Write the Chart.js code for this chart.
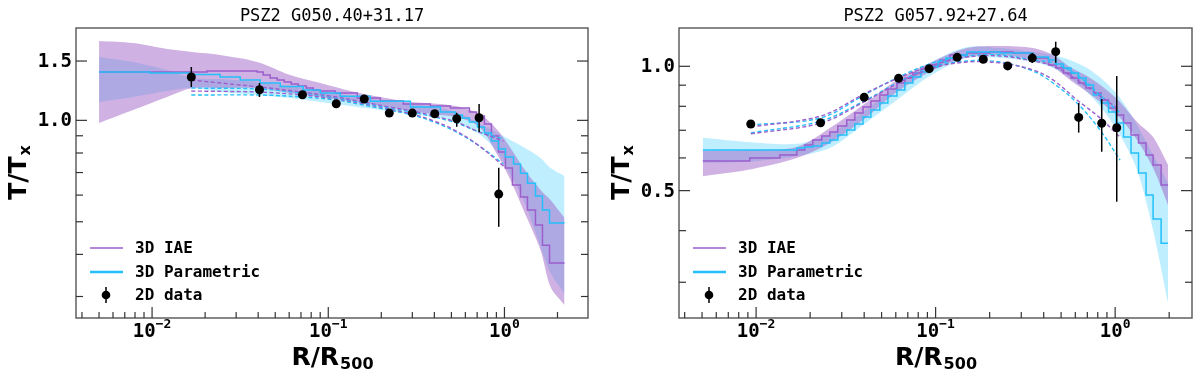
<!DOCTYPE html>
<html>
<head>
<meta charset="utf-8">
<title>T/Tx profiles</title>
<script src="https://cdn.jsdelivr.net/npm/chart.js@4.4.1/dist/chart.umd.min.js"></script>
<style>
	html, body { margin: 0; padding: 0; background: #fff; }
	#wrap { display: flex; width: 1200px; height: 378px; }
	.panel { position: relative; width: 600px; height: 378px; }
</style>
</head>
<body>
<div id="wrap">
	<div class="panel"><canvas id="chartA"></canvas></div>
	<div class="panel"><canvas id="chartB"></canvas></div>
</div>
<script>
// ---- left panel: PSZ2 G050.40+31.17 ----
const titleA = 'PSZ2 G050.40+31.17';
const radiiA = [0.0167, 0.0407, 0.0714, 0.111, 0.160, 0.222, 0.300, 0.402, 0.536, 0.718, 0.928];
const tempA = [1.345, 1.233, 1.191, 1.120, 1.157, 1.051, 1.051, 1.046, 1.011, 1.018, 0.604];
const errLoA = [1.256, 1.173, 1.178, 1.107, 1.144, 1.040, 1.040, 1.033, 0.957, 0.923, 0.483];
const errHiA = [1.440, 1.290, 1.204, 1.133, 1.170, 1.062, 1.062, 1.059, 1.053, 1.118, 0.723];

const bandRA = [0.0050, 0.0078, 0.01217, 0.01688, 0.02434, 0.0395, 0.0608, 0.0901, 0.1334, 0.1975, 0.2924, 0.4329, 0.5623, 0.7305, 0.9125, 1.082, 1.282, 1.602, 1.826, 2.192];
const iaeUpA = [1.720, 1.696, 1.628, 1.595, 1.563, 1.490, 1.363, 1.290, 1.222, 1.173, 1.133, 1.118, 1.095, 1.040, 0.936, 0.828, 0.722, 0.621, 0.580, 0.513];
const iaeLoA = [0.982, 1.073, 1.173, 1.247, 1.247, 1.247, 1.205, 1.173, 1.141, 1.103, 1.066, 1.037, 1.016, 0.949, 0.789, 0.665, 0.542, 0.412, 0.320, 0.283];
const parUpA = [1.542, 1.490, 1.411, 1.335, 1.326, 1.299, 1.264, 1.222, 1.181, 1.149, 1.118, 1.088, 1.044, 0.975, 0.917, 0.874, 0.833, 0.773, 0.722, 0.684];
const parLoA = [1.133, 1.173, 1.222, 1.247, 1.213, 1.189, 1.165, 1.133, 1.103, 1.073, 1.044, 1.016, 0.975, 0.905, 0.805, 0.688, 0.580, 0.421, 0.352, 0.305];

const iaeStepRA = [0.0050, 0.0205, 0.0395, 0.0427, 0.0468, 0.0513, 0.0562, 0.0616, 0.0675, 0.0750, 0.0822, 0.0901, 0.1096, 0.1462, 0.1975, 0.2667, 0.3797, 0.4934, 0.6326, 0.6934, 0.7695, 0.8436, 0.9254, 1.013, 1.110, 1.233, 1.351, 1.500, 1.644, 1.802, 2.192];
const iaeStepTA = [1.391, 1.401, 1.391, 1.363, 1.335, 1.317, 1.299, 1.282, 1.264, 1.247, 1.230, 1.222, 1.205, 1.165, 1.141, 1.118, 1.103, 1.088, 1.058, 1.030, 0.975, 0.898, 0.805, 0.722, 0.643, 0.592, 0.542, 0.489, 0.426, 0.377, 0.377];
const parStepRA = [0.0050, 0.00974, 0.01666, 0.02434, 0.03164, 0.0411, 0.0534, 0.0721, 0.0901, 0.117, 0.1732, 0.2924, 0.4329, 0.5268, 0.5772, 0.6326, 0.7025, 0.7695, 0.8436, 0.9254, 1.013, 1.125, 1.233, 1.351, 1.500, 1.644, 1.802, 2.192];
const parStepTA = [1.391, 1.382, 1.368, 1.345, 1.317, 1.290, 1.260, 1.230, 1.205, 1.180, 1.140, 1.095, 1.058, 1.037, 1.016, 0.988, 0.955, 0.917, 0.868, 0.822, 0.778, 0.742, 0.697, 0.651, 0.596, 0.542, 0.496, 0.496];

const projRA = [0.0167, 0.0407, 0.0714, 0.111, 0.160, 0.222, 0.300, 0.400, 0.534, 0.721, 0.987];
const projIaeA1 = [1.317, 1.256, 1.213, 1.173, 1.133, 1.095, 1.066, 1.030, 0.988, 0.923, 0.868];
const projParA1 = [1.247, 1.239, 1.205, 1.165, 1.126, 1.088, 1.058, 1.023, 0.982, 0.923, 0.880];
const projIaeA2 = [1.222, 1.213, 1.189, 1.157, 1.118, 1.080, 1.044, 0.995, 0.929, 0.839, 0.732];
const projParA2 = [1.189, 1.189, 1.173, 1.149, 1.110, 1.073, 1.037, 0.988, 0.923, 0.839, 0.742];

const yMajorA = [1.0, 1.5];
const yLabelsA = ['1.0', '1.5'];
const yMinorA = [0.3, 0.4, 0.5, 0.6, 0.7, 0.8, 0.9];

// ---- right panel: PSZ2 G057.92+27.64 ----
const titleB = 'PSZ2 G057.92+27.64';
const radiiB = [0.00934, 0.02286, 0.0400, 0.0622, 0.0921, 0.1319, 0.1842, 0.2520, 0.3455, 0.4666, 0.6266, 0.8418, 1.0207];
const tempB = [0.725, 0.730, 0.841, 0.935, 0.987, 1.051, 1.040, 1.002, 1.047, 1.085, 0.752, 0.728, 0.710];
const errLoB = [0.716, 0.721, 0.832, 0.926, 0.978, 1.042, 1.031, 0.993, 1.019, 1.020, 0.691, 0.621, 0.470];
const errHiB = [0.734, 0.739, 0.850, 0.944, 0.996, 1.060, 1.049, 1.011, 1.077, 1.147, 0.815, 0.833, 0.947];

const bandRB = [0.00505, 0.00888, 0.01686, 0.02575, 0.0394, 0.0609, 0.0929, 0.1494, 0.2283, 0.3486, 0.4507, 0.5604, 0.6973, 0.8563, 1.065, 1.325, 1.627, 1.972];
const iaeUpB = [0.624, 0.627, 0.638, 0.709, 0.806, 0.927, 1.019, 1.107, 1.120, 1.107, 1.065, 0.996, 0.947, 0.891, 0.820, 0.733, 0.674, 0.577];
const iaeLoB = [0.542, 0.561, 0.600, 0.652, 0.741, 0.867, 0.969, 1.053, 1.065, 1.036, 0.996, 0.927, 0.867, 0.810, 0.750, 0.663, 0.567, 0.461];
const parUpB = [0.671, 0.656, 0.649, 0.686, 0.775, 0.901, 1.019, 1.114, 1.107, 1.083, 1.065, 1.036, 0.991, 0.927, 0.838, 0.721, 0.610, 0.522];
const parLoB = [0.583, 0.587, 0.606, 0.634, 0.721, 0.829, 0.947, 1.047, 1.047, 1.024, 0.991, 0.937, 0.867, 0.784, 0.682, 0.561, 0.401, 0.267];

const iaeStepRB = [0.00505, 0.00922, 0.01356, 0.01686, 0.01868, 0.0207, 0.02324, 0.02575, 0.02853, 0.0320, 0.03549, 0.0394, 0.0436, 0.0489, 0.0542, 0.0609, 0.0674, 0.0747, 0.0828, 0.0929, 0.1057, 0.1202, 0.1494, 0.2008, 0.2698, 0.3486, 0.4254, 0.4685, 0.5159, 0.5678, 0.6252, 0.6884, 0.7577, 0.834, 0.9188, 1.0116, 1.114, 1.226, 1.350, 1.487, 1.627, 1.803, 1.972];
const iaeStepTB = [0.590, 0.600, 0.610, 0.627, 0.645, 0.663, 0.678, 0.693, 0.717, 0.741, 0.771, 0.797, 0.824, 0.852, 0.881, 0.911, 0.937, 0.963, 0.985, 1.007, 1.036, 1.065, 1.077, 1.083, 1.077, 1.047, 1.007, 0.991, 0.963, 0.937, 0.911, 0.886, 0.862, 0.829, 0.793, 0.762, 0.729, 0.682, 0.652, 0.610, 0.577, 0.516, 0.516];
const parStepRB = [0.00505, 0.01686, 0.01868, 0.0207, 0.02324, 0.02575, 0.02853, 0.0320, 0.03549, 0.0394, 0.0436, 0.0489, 0.0542, 0.0609, 0.0674, 0.0747, 0.0828, 0.0929, 0.1030, 0.1141, 0.1281, 0.1494, 0.2283, 0.3486, 0.4254, 0.4685, 0.5159, 0.5678, 0.6252, 0.6884, 0.7577, 0.834, 0.9188, 1.0116, 1.114, 1.226, 1.350, 1.487, 1.627, 1.803, 1.972];
const parStepTB = [0.627, 0.634, 0.638, 0.641, 0.652, 0.663, 0.682, 0.701, 0.725, 0.754, 0.784, 0.815, 0.847, 0.876, 0.911, 0.942, 0.969, 0.996, 1.024, 1.047, 1.065, 1.083, 1.077, 1.053, 1.036, 1.013, 0.991, 0.963, 0.937, 0.901, 0.852, 0.815, 0.775, 0.729, 0.674, 0.617, 0.552, 0.488, 0.427, 0.373, 0.373];

const projRB = [0.00934, 0.02294, 0.0400, 0.0622, 0.0966, 0.1494, 0.2283, 0.3486, 0.4507, 0.6132, 0.8236, 1.065];
const projIaeB1 = [0.713, 0.758, 0.857, 0.937, 1.007, 1.053, 1.059, 1.030, 1.002, 0.927, 0.847, 0.784];
const projParB1 = [0.721, 0.750, 0.852, 0.942, 1.019, 1.059, 1.065, 1.036, 1.019, 0.953, 0.852, 0.771];
const projIaeB2 = [0.686, 0.729, 0.820, 0.911, 0.991, 1.024, 1.019, 0.980, 0.927, 0.829, 0.750, 0.674];
const projParB2 = [0.690, 0.737, 0.824, 0.916, 0.996, 1.030, 1.024, 0.974, 0.911, 0.815, 0.701, 0.593];

const yMajorB = [0.5, 1.0];
const yLabelsB = ['0.5', '1.0'];
const yMinorB = [0.3, 0.4, 0.6, 0.7, 0.8, 0.9];

// shared axis ticks
const xMajor = [0.01, 0.1, 1];
const xExps = ['\u22122', '\u22121', '0'];
const legendLabels = ['3D IAE', '3D Parametric', '2D data'];

const PURPLE = 'rgb(155, 95, 205)';
const CYAN = 'rgb(35, 192, 250)';
const PURPLE_FILL = 'rgba(160, 100, 200, 0.5)';
const CYAN_FILL = 'rgba(0, 191, 255, 0.25)';
const MONO = '"DejaVu Sans Mono", monospace';
const SANS = '"DejaVu Sans", sans-serif';

const panels = {
	chartA: {
		title: titleA, r: radiiA, t: tempA, errLo: errLoA, errHi: errHiA,
		bandR: bandRA, iaeUp: iaeUpA, iaeLo: iaeLoA, parUp: parUpA, parLo: parLoA,
		iaeStepR: iaeStepRA, iaeStepT: iaeStepTA, parStepR: parStepRA, parStepT: parStepTA,
		projR: projRA, proj: [[projIaeA1, PURPLE], [projParA1, CYAN], [projIaeA2, PURPLE], [projParA2, CYAN]],
		yMajor: yMajorA, yLabels: yLabelsA, yMinor: yMinorA,
		xMin: 0.0037, xMax: 2.98, yMin: 0.259, yMax: 1.88,
		padding: { left: 76, right: 12, top: 28, bottom: 60 }
	},
	chartB: {
		title: titleB, r: radiiB, t: tempB, errLo: errLoB, errHi: errHiB,
		bandR: bandRB, iaeUp: iaeUpB, iaeLo: iaeLoB, parUp: parUpB, parLo: parLoB,
		iaeStepR: iaeStepRB, iaeStepT: iaeStepTB, parStepR: parStepRB, parStepT: parStepTB,
		projR: projRB, proj: [[projIaeB1, PURPLE], [projParB1, CYAN], [projIaeB2, PURPLE], [projParB2, CYAN]],
		yMajor: yMajorB, yLabels: yLabelsB, yMinor: yMinorB,
		xMin: 0.00372, xMax: 2.68, yMin: 0.2458, yMax: 1.238,
		padding: { left: 79, right: 8, top: 28, bottom: 60 }
	}
};

function pairs(xs, ys)
{
	return xs.map((x, i) => ({ x: x, y: ys[i] }));
}

// error bars under the markers, tick marks / labels / legend on top
const framePlugin = {
	id: 'frame',

	beforeDatasetDraw: function(chart, args)
	{
		if (args.index !== 0)
		{
			return;
		}
		const p = panels[chart.canvas.id];
		const ctx = chart.ctx, y = chart.scales.y;
		ctx.save();
		ctx.strokeStyle = '#000';
		ctx.lineWidth = 1.5;
		args.meta.data.forEach((pt, i) => {
			ctx.beginPath();
			ctx.moveTo(pt.x, y.getPixelForValue(p.errLo[i]));
			ctx.lineTo(pt.x, y.getPixelForValue(p.errHi[i]));
			ctx.stroke();
		});
		ctx.restore();
	},

	afterDraw: function(chart)
	{
		const p = panels[chart.canvas.id];
		const ctx = chart.ctx, a = chart.chartArea;
		const x = chart.scales.x, y = chart.scales.y;

		const line = (x1, y1, x2, y2) => {
			ctx.beginPath();
			ctx.moveTo(x1, y1);
			ctx.lineTo(x2, y2);
			ctx.stroke();
		};

		ctx.save();
		ctx.strokeStyle = '#555';
		ctx.lineWidth = 1.4;
		ctx.strokeRect(a.left, a.top, a.right - a.left, a.bottom - a.top);

		// y ticks, both sides, pointing in
		ctx.strokeStyle = '#333';
		ctx.lineWidth = 1.2;
		p.yMinor.forEach((v) => {
			const py = y.getPixelForValue(v);
			line(a.left, py, a.left + 7, py);
			line(a.right - 7, py, a.right, py);
		});
		ctx.fillStyle = '#000';
		ctx.font = 'bold 19px ' + MONO;
		ctx.textAlign = 'right';
		ctx.textBaseline = 'middle';
		p.yMajor.forEach((v, i) => {
			const py = y.getPixelForValue(v);
			line(a.left, py, a.left + 11, py);
			line(a.right - 11, py, a.right, py);
			ctx.fillText(p.yLabels[i], a.left - 4, py + 1);
		});

		// x ticks
		for (let d = 0.001; d < 10; d *= 10)
		{
			for (let k = 2; k <= 9; k++)
			{
				const v = d * k;
				if (v < p.xMin || v > p.xMax)
				{
					continue;
				}
				const px = x.getPixelForValue(v);
				line(px, a.bottom, px, a.bottom - 6);
			}
		}
		ctx.textAlign = 'left';
		ctx.textBaseline = 'alphabetic';
		xMajor.forEach((v, i) => {
			const px = x.getPixelForValue(v);
			line(px, a.bottom, px, a.bottom - 11);
			ctx.font = 'bold 19px ' + MONO;
			const w1 = ctx.measureText('10').width;
			ctx.font = 'bold 13px ' + MONO;
			const w2 = ctx.measureText(xExps[i]).width;
			const x0 = px - (w1 + w2) / 2;
			ctx.font = 'bold 19px ' + MONO;
			ctx.fillText('10', x0, a.bottom + 19);
			ctx.font = 'bold 13px ' + MONO;
			ctx.fillText(xExps[i], x0 + w1, a.bottom + 10);
		});

		// axis titles
		const cx = (a.left + a.right) / 2;
		ctx.font = 'bold 25px ' + SANS;
		const wR = ctx.measureText('R/R').width;
		ctx.font = 'bold 16px ' + SANS;
		const wS = ctx.measureText('500').width;
		ctx.font = 'bold 25px ' + SANS;
		ctx.fillText('R/R', cx - (wR + wS) / 2, 365);
		ctx.font = 'bold 16px ' + SANS;
		ctx.fillText('500', cx - (wR + wS) / 2 + wR + 1, 369);

		ctx.save();
		ctx.translate(a.left - 50, (a.top + a.bottom) / 2);
		ctx.rotate(-Math.PI / 2);
		ctx.font = 'bold 25px ' + SANS;
		const wT = ctx.measureText('T/T').width;
		ctx.font = 'bold 16px ' + SANS;
		const wx = ctx.measureText('x').width;
		ctx.font = 'bold 25px ' + SANS;
		ctx.fillText('T/T', -(wT + wx) / 2, 0);
		ctx.font = 'bold 16px ' + SANS;
		ctx.fillText('x', -(wT + wx) / 2 + wT + 1, 4);
		ctx.restore();

		// title
		ctx.font = '17px ' + MONO;
		ctx.textAlign = 'center';
		ctx.fillText(p.title, cx, 21);

		// legend
		const lx = a.left + 14, rows = [a.top + 220, a.top + 244, a.top + 267];
		ctx.lineWidth = 1.6;
		ctx.strokeStyle = PURPLE;
		line(lx, rows[0], lx + 33, rows[0]);
		ctx.lineWidth = 2.6;
		ctx.strokeStyle = CYAN;
		line(lx, rows[1], lx + 33, rows[1]);
		ctx.lineWidth = 1.5;
		ctx.strokeStyle = '#000';
		line(lx + 16, rows[2] - 8, lx + 16, rows[2] + 8);
		ctx.beginPath();
		ctx.arc(lx + 16, rows[2], 4.3, 0, Math.PI * 2);
		ctx.fill();
		ctx.font = 'bold 16px ' + MONO;
		ctx.textAlign = 'left';
		ctx.textBaseline = 'middle';
		legendLabels.forEach((s, i) => ctx.fillText(s, lx + 45, rows[i] + 1));
		ctx.restore();
	}
};

function makePanel(id)
{
	const p = panels[id];
	const datasets = [
		{
			label: '2D data', data: pairs(p.r, p.t), showLine: false,
			pointRadius: 4.5, pointHoverRadius: 4.5, pointBackgroundColor: '#000', pointBorderWidth: 0, order: 0
		}
	];
	p.proj.forEach((pr) => {
		datasets.push({
			data: pairs(p.projR, pr[0]), borderColor: pr[1], borderWidth: 1.4,
			borderDash: [4, 2.5], pointRadius: 0, tension: 0.35, fill: false, order: 1
		});
	});
	datasets.push(
		{ label: '3D Parametric', data: pairs(p.parStepR, p.parStepT), stepped: true, borderColor: CYAN, borderWidth: 1.5, pointRadius: 0, fill: false, order: 2 },
		{ label: '3D IAE', data: pairs(p.iaeStepR, p.iaeStepT), stepped: true, borderColor: PURPLE, borderWidth: 1.5, pointRadius: 0, fill: false, order: 3 },
		{ data: pairs(p.bandR, p.iaeUp), borderWidth: 0, borderColor: 'transparent', backgroundColor: PURPLE_FILL, fill: '+1', pointRadius: 0, tension: 0.3, order: 5 },
		{ data: pairs(p.bandR, p.iaeLo), borderWidth: 0, borderColor: 'transparent', fill: false, pointRadius: 0, tension: 0.3, order: 5 },
		{ data: pairs(p.bandR, p.parUp), borderWidth: 0, borderColor: 'transparent', backgroundColor: CYAN_FILL, fill: '+1', pointRadius: 0, tension: 0.3, order: 7 },
		{ data: pairs(p.bandR, p.parLo), borderWidth: 0, borderColor: 'transparent', fill: false, pointRadius: 0, tension: 0.3, order: 7 }
	);

	return new Chart(document.getElementById(id), {
		type: 'line',
		data: { datasets: datasets },
		options: {
			responsive: true,
			maintainAspectRatio: false,
			animation: false,
			devicePixelRatio: 1,
			layout: { padding: p.padding },
			scales: {
				x: { type: 'logarithmic', min: p.xMin, max: p.xMax, display: false },
				y: { type: 'logarithmic', min: p.yMin, max: p.yMax, display: false }
			},
			plugins: {
				legend: { display: false },
				tooltip: { enabled: false }
			}
		},
		plugins: [framePlugin]
	});
}

makePanel('chartA');
makePanel('chartB');
</script>
</body>
</html>
